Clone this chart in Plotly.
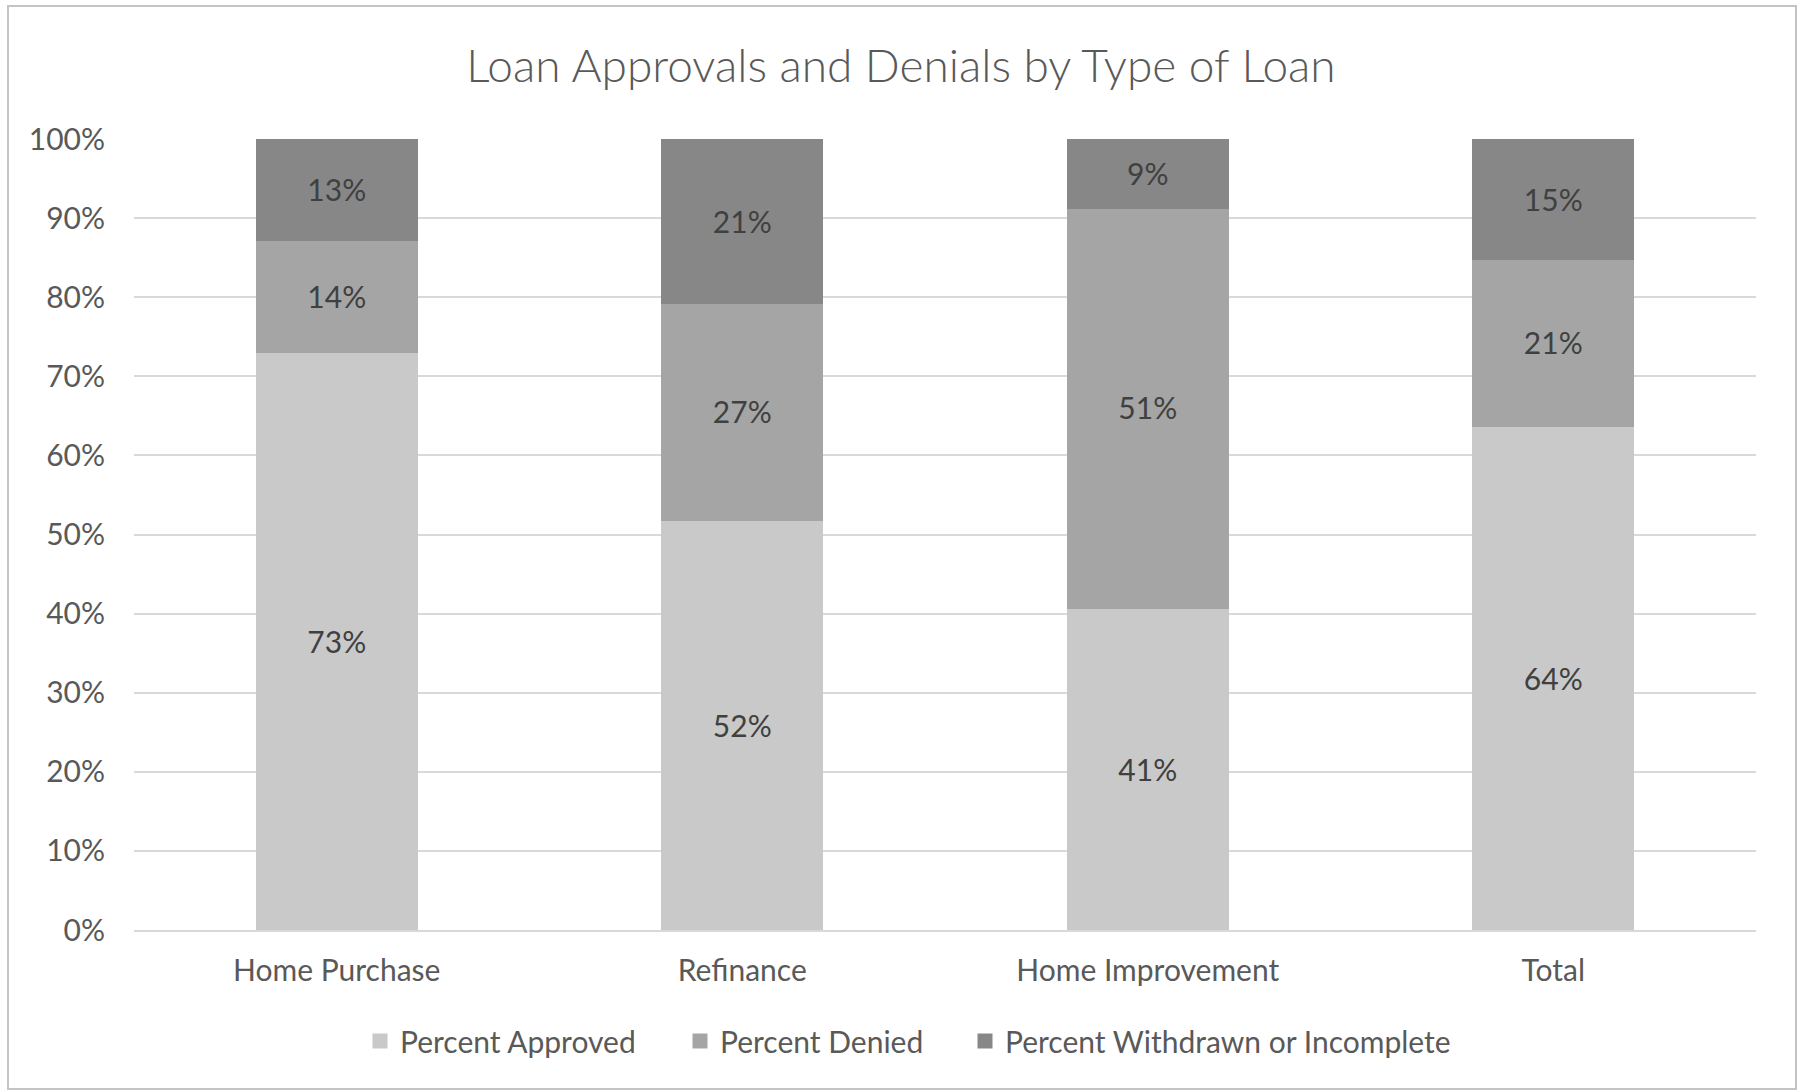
"""
stacked bar of loan outcomes by loan type
"""

import plotly.graph_objs as go

# columns: loan type, share approved / denied / withdrawn (percent)
loan_types = ['Home Purchase', 'Refinance', 'Home Improvement', 'Total']
pct_approved = [73.1, 51.9, 40.8, 63.8]
pct_denied = [14.2, 27.4, 50.6, 21.1]
pct_withdrawn = [12.7, 20.7, 8.6, 15.1]

series_names = ['Percent Approved', 'Percent Denied', 'Percent Withdrawn or Incomplete']
y_ticks = [0, 10, 20, 30, 40, 50, 60, 70, 80, 90, 100]
y_tick_labels = ['%d%%' % t for t in y_ticks]

FONT = 'Lato, Calibri, Carlito, sans-serif'
colors = ['#C9C9C9', '#A5A5A5', '#878787']
# legend entry widths so the keys sit where excel put them
legend_widths = [275, 240, 440]

W, H = 1802, 1091
left, right, top, bottom = 134, 1756, 139, 930

data = []
for name, vals, col, lw in zip(series_names, [pct_approved, pct_denied, pct_withdrawn],
                               colors, legend_widths):
    data.append(go.Bar(
        x=loan_types,
        y=vals,
        name=name,
        legendwidth=lw,
        # same-colour outline: makes the legend key squares bigger
        marker=dict(color=col, line=dict(color=col, width=3)),
        texttemplate='%{y:.0f}%',
        textposition='inside',
        insidetextanchor='middle',
        textangle=0,
        textfont=dict(family=FONT, size=30, color='#404040'),
        constraintext='none',
        hoverinfo='skip',
    ))

fig = go.Figure(data=data)

# outer chart frame, like the excel chart area border
pw, ph = right - left, bottom - top
fig.add_shape(
    type='rect', xref='paper', yref='paper',
    x0=(8 - left) / pw, x1=(1796 - left) / pw,
    y0=(bottom - 1089) / ph, y1=(bottom - 6) / ph,
    line=dict(color='#C4C4C4', width=2),
    layer='below',
)

fig.update_layout(
    width=W, height=H,
    barmode='stack',
    bargap=0.607,
    plot_bgcolor='white',
    paper_bgcolor='white',
    margin=dict(l=left, r=W - right, t=top, b=H - bottom, pad=0),
    title=dict(
        text='Loan Approvals and Denials by Type of Loan',
        x=0.5, xref='container', xanchor='center',
        y=1 - 66 / H, yref='container', yanchor='middle',
        font=dict(family=FONT, size=46, color='#595959', weight=300),
    ),
    showlegend=True,
    legend=dict(
        orientation='h',
        x=360 / W, xref='container', xanchor='left',
        y=1 - 1041 / H, yref='container', yanchor='middle',
        font=dict(family=FONT, size=30, color='#595959'),
        traceorder='normal',
        itemclick=False,
        bgcolor='rgba(0,0,0,0)',
    ),
    xaxis=dict(
        showgrid=False,
        showline=True, linecolor='#D9D9D9', linewidth=2,
        ticks='',
        tickfont=dict(family=FONT, size=30, color='#595959'),
        ticklabelstandoff=13,
        fixedrange=True,
    ),
    yaxis=dict(
        range=[0, 100],
        tickmode='array',
        tickvals=y_ticks,
        ticktext=y_tick_labels,
        showgrid=True, gridcolor='#D9D9D9', gridwidth=1.5,
        zeroline=False,
        showline=False,
        ticks='',
        tickfont=dict(family=FONT, size=30, color='#595959'),
        ticklabelstandoff=28,
        fixedrange=True,
    ),
)

# drop the default 8px page margin so the chart sits at the window corner
fig.write_html("out.html", config={'displayModeBar': False},
               post_script="document.body.style.margin='0px';")
